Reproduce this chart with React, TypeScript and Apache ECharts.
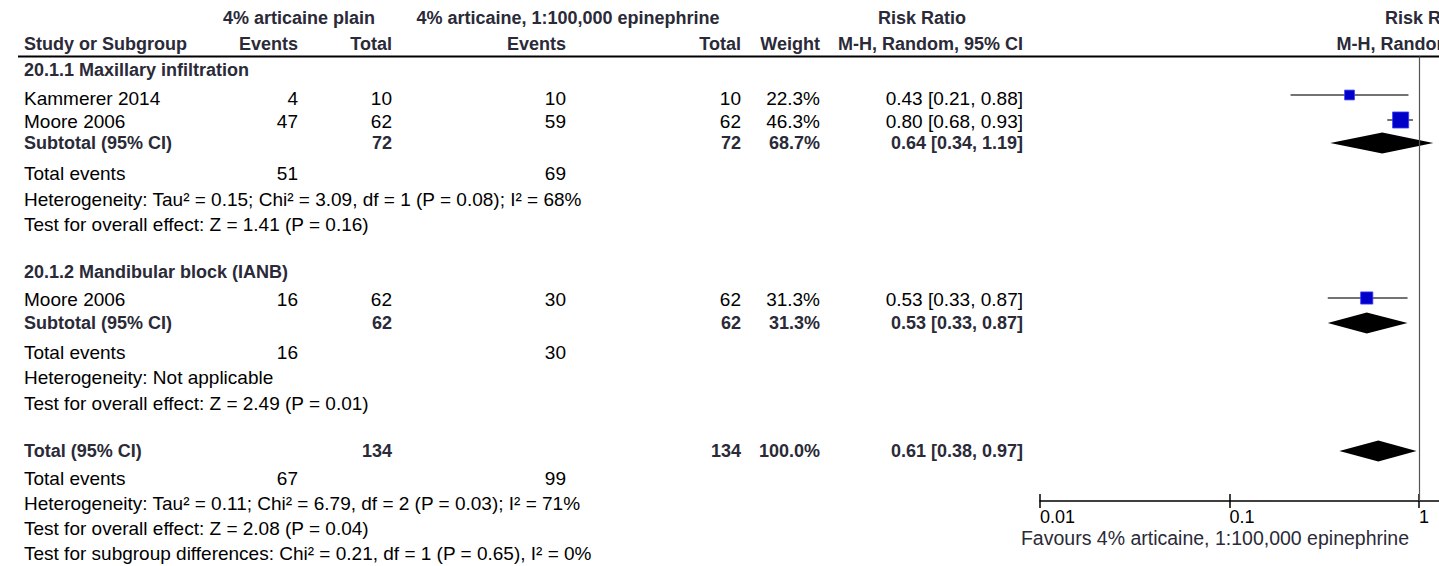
import React, { useEffect, useRef } from "react";
import * as echarts from "echarts";

// ---------- data ----------
const studyNames = ["Kammerer 2014", "Moore 2006", "Moore 2006"];
const events1 = [4, 47, 16];
const total1 = [10, 62, 62];
const events2 = [10, 59, 30];
const total2 = [10, 62, 62];
const weights = [22.3, 46.3, 31.3];
const rr = [0.43, 0.8, 0.53];
const rrLow = [0.21, 0.68, 0.33];
const rrHigh = [0.88, 0.93, 0.87];

const subgroupNames = ["20.1.1 Maxillary infiltration", "20.1.2 Mandibular block (IANB)"];
const subTotal1 = [72, 62];
const subTotal2 = [72, 62];
const subEvents1 = [51, 16];
const subEvents2 = [69, 30];
const subWeights = [68.7, 31.3];
const subRR = [0.64, 0.53];
const subLow = [0.34, 0.33];
const subHigh = [1.19, 0.87];
const subHeterogeneity = [
  "Heterogeneity: Tau² = 0.15; Chi² = 3.09, df = 1 (P = 0.08); I² = 68%",
  "Heterogeneity: Not applicable",
];
const subEffect = [
  "Test for overall effect: Z = 1.41 (P = 0.16)",
  "Test for overall effect: Z = 2.49 (P = 0.01)",
];

const overallTotals = [134, 134];
const overallEvents = [67, 99];
const overallWeight = 100.0;
const overallRR = 0.61;
const overallLow = 0.38;
const overallHigh = 0.97;
const overallHet = "Heterogeneity: Tau² = 0.11; Chi² = 6.79, df = 2 (P = 0.03); I² = 71%";
const overallEffect = "Test for overall effect: Z = 2.08 (P = 0.04)";
const subgroupDiff = "Test for subgroup differences: Chi² = 0.21, df = 1 (P = 0.65), I² = 0%";

const group1Label = "4% articaine plain";
const group2Label = "4% articaine, 1:100,000 epinephrine";
const effectLabel = "Risk Ratio";
const methodLabel = "M-H, Random, 95% CI";
const favoursLabel = "Favours 4% articaine, 1:100,000 epinephrine";
const axisMin = 0.01;
const axisMax = 100;

// ---------- layout ----------
const FONT = "'Liberation Sans', Arial, Helvetica, sans-serif";
const REG = `19px ${FONT}`;
const BOLD = `bold 18px ${FONT}`;
const HEAD_COLOR = "#2a2a38";

const VIEW_W = 1439;
const VIEW_H = 566;
const CHART_W = 1840;
const PLOT_LEFT = 1040;
const PLOT_W = 758;

const COL = { study: 24, e1: 298, n1: 392, e2: 566, n2: 741, w: 820, ci: 1023 };
const studyTextY = [98, 121, 299];
const studyMarkY = [95, 120, 298];
const groupTitleY = [70, 272];
const subTextY = [143, 323];
const subMarkY = [143, 323];
const subEventsY = [173, 352];
const subHetY = [199, 377];
const subEffY = [224, 403];
const totalY = 451;
const totalEventsY = 478;
const totalHetY = 503;
const totalEffY = 528;
const diffY = 553;
const axisY = 501;
const ruleY = 56.5;

const fmtCI = (e: number, l: number, h: number) =>
  `${e.toFixed(2)} [${l.toFixed(2)}, ${h.toFixed(2)}]`;

function txt(text: string, x: number, y: number, align: string, bold: boolean, color?: string, font?: string) {
  return {
    type: "text",
    x,
    y,
    silent: true,
    style: {
      text,
      font: font || (bold ? BOLD : REG),
      fill: color || (bold ? HEAD_COLOR : "#000"),
      textAlign: align,
      align,
      textVerticalAlign: "middle",
      verticalAlign: "middle",
    },
  };
}

export default function App() {
  const ref = useRef<HTMLDivElement>(null);

  useEffect(() => {
    if (!ref.current) return;
    const chart = echarts.init(ref.current, undefined, { renderer: "svg" });

    const g: any[] = [];
    // headers
    g.push(txt(group1Label, 299, 18, "center", true));
    g.push(txt(group2Label, 568, 18, "center", true));
    g.push(txt(effectLabel, 922, 18, "center", true));
    g.push(txt(effectLabel, 1429, 18, "center", true));
    g.push(txt("Study or Subgroup", COL.study, 44, "left", true));
    g.push(txt("Events", COL.e1, 44, "right", true));
    g.push(txt("Total", COL.n1, 44, "right", true));
    g.push(txt("Events", COL.e2, 44, "right", true));
    g.push(txt("Total", COL.n2, 44, "right", true));
    g.push(txt("Weight", COL.w, 44, "right", true));
    g.push(txt(methodLabel, COL.ci, 44, "right", true));
    g.push(txt(methodLabel, 1429, 44, "center", true));
    g.push({
      type: "line",
      silent: true,
      shape: { x1: 18, y1: ruleY, x2: CHART_W, y2: ruleY },
      style: { stroke: "#000", lineWidth: 2 },
    });

    // studies
    studyNames.forEach((name, i) => {
      const y = studyTextY[i];
      g.push(txt(name, COL.study, y, "left", false));
      g.push(txt(String(events1[i]), COL.e1, y, "right", false));
      g.push(txt(String(total1[i]), COL.n1, y, "right", false));
      g.push(txt(String(events2[i]), COL.e2, y, "right", false));
      g.push(txt(String(total2[i]), COL.n2, y, "right", false));
      g.push(txt(`${weights[i].toFixed(1)}%`, COL.w, y, "right", false));
      g.push(txt(fmtCI(rr[i], rrLow[i], rrHigh[i]), COL.ci, y, "right", false));
    });

    // subgroups
    subgroupNames.forEach((name, k) => {
      g.push(txt(name, COL.study, groupTitleY[k], "left", true));
      const y = subTextY[k];
      g.push(txt("Subtotal (95% CI)", COL.study, y, "left", true));
      g.push(txt(String(subTotal1[k]), COL.n1, y, "right", true));
      g.push(txt(String(subTotal2[k]), COL.n2, y, "right", true));
      g.push(txt(`${subWeights[k].toFixed(1)}%`, COL.w, y, "right", true));
      g.push(txt(fmtCI(subRR[k], subLow[k], subHigh[k]), COL.ci, y, "right", true));
      g.push(txt("Total events", COL.study, subEventsY[k], "left", false));
      g.push(txt(String(subEvents1[k]), COL.e1, subEventsY[k], "right", false));
      g.push(txt(String(subEvents2[k]), COL.e2, subEventsY[k], "right", false));
      g.push(txt(subHeterogeneity[k], COL.study, subHetY[k], "left", false));
      g.push(txt(subEffect[k], COL.study, subEffY[k], "left", false));
    });

    // overall
    g.push(txt("Total (95% CI)", COL.study, totalY, "left", true));
    g.push(txt(String(overallTotals[0]), COL.n1, totalY, "right", true));
    g.push(txt(String(overallTotals[1]), COL.n2, totalY, "right", true));
    g.push(txt(`${overallWeight.toFixed(1)}%`, COL.w, totalY, "right", true));
    g.push(txt(fmtCI(overallRR, overallLow, overallHigh), COL.ci, totalY, "right", true));
    g.push(txt("Total events", COL.study, totalEventsY, "left", false));
    g.push(txt(String(overallEvents[0]), COL.e1, totalEventsY, "right", false));
    g.push(txt(String(overallEvents[1]), COL.e2, totalEventsY, "right", false));
    g.push(txt(overallHet, COL.study, totalHetY, "left", false));
    g.push(txt(overallEffect, COL.study, totalEffY, "left", false));
    g.push(txt(subgroupDiff, COL.study, diffY, "left", false));
    g.push(txt(favoursLabel, 1215, 538, "center", false, HEAD_COLOR, `19.5px ${FONT}`));

    const ciData = rr.map((_, i) => [rrLow[i], rrHigh[i], studyMarkY[i]]);
    const sqData = rr.map((v, i) => ({
      value: [v, studyMarkY[i]],
      symbolSize: 4 + weights[i] * 0.26,
    }));
    const diamondData = [
      ...subRR.map((v, k) => [subLow[k], v, subHigh[k], subMarkY[k]]),
      [overallLow, overallRR, overallHigh, totalY],
    ];

    const xBase = {
      type: "log",
      logBase: 10,
      min: axisMin,
      max: axisMax,
      gridIndex: 0,
      position: "bottom",
      offset: 0,
      splitLine: { show: false },
      splitNumber: 4,
    };

    chart.setOption({
      animation: false,
      backgroundColor: "#fff",
      grid: { left: PLOT_LEFT, top: 0, width: PLOT_W, height: axisY, containLabel: false },
      xAxis: [
        {
          ...xBase,
          axisLine: { show: true, onZero: false, lineStyle: { color: "#000", width: 1.5 } },
          axisTick: { show: true, inside: true, length: 7, lineStyle: { color: "#000", width: 1.5 } },
          axisLabel: {
            show: true,
            align: "left",
            margin: 7,
            color: "#000",
            fontSize: 18,
            fontFamily: FONT,
            showMinLabel: true,
            showMaxLabel: true,
            formatter: (v: number) => String(+Number(v).toPrecision(3)),
          },
        },
        {
          ...xBase,
          axisLine: { show: false, onZero: false },
          axisTick: { show: true, inside: false, length: 7, lineStyle: { color: "#000", width: 1.5 } },
          axisLabel: { show: false },
        },
      ],
      yAxis: { type: "value", min: 0, max: axisY, inverse: true, show: false },
      graphic: g,
      series: [
        {
          type: "custom",
          name: "ci",
          silent: true,
          data: ciData,
          encode: { x: [0, 1], y: 2 },
          renderItem: (params: any, api: any) => {
            const p1 = api.coord([api.value(0), api.value(2)]);
            const p2 = api.coord([api.value(1), api.value(2)]);
            return {
              type: "line",
              shape: { x1: p1[0], y1: p1[1], x2: p2[0], y2: p2[1] },
              style: { stroke: "#444", lineWidth: 1.5 },
            };
          },
          markLine: {
            silent: true,
            symbol: "none",
            label: { show: false },
            lineStyle: { color: "#555", width: 1.2, type: "solid" },
            data: [[{ coord: [1, ruleY] }, { coord: [1, axisY] }]],
          },
        },
        {
          type: "scatter",
          name: "studies",
          silent: true,
          symbol: "rect",
          data: sqData,
          itemStyle: { color: "#0000c8", borderColor: "#3a3aff", borderWidth: 0.8, opacity: 1 },
          z: 3,
        },
        {
          type: "custom",
          name: "pooled",
          silent: true,
          data: diamondData,
          encode: { x: [0, 1, 2], y: 3 },
          renderItem: (params: any, api: any) => {
            const y = api.value(3);
            const l = api.coord([api.value(0), y]);
            const c = api.coord([api.value(1), y]);
            const r = api.coord([api.value(2), y]);
            const h = 10.5;
            return {
              type: "polygon",
              shape: { points: [[l[0], l[1]], [c[0], c[1] - h], [r[0], r[1]], [c[0], c[1] + h]] },
              style: { fill: "#000" },
            };
          },
          z: 3,
        },
      ],
    });

    return () => chart.dispose();
  }, []);

  return (
    <div
      style={{
        position: "absolute",
        left: 0,
        top: 0,
        width: VIEW_W,
        height: VIEW_H,
        overflow: "hidden",
        background: "#fff",
      }}
    >
      <div ref={ref} style={{ width: CHART_W, height: VIEW_H }} />
    </div>
  );
}
